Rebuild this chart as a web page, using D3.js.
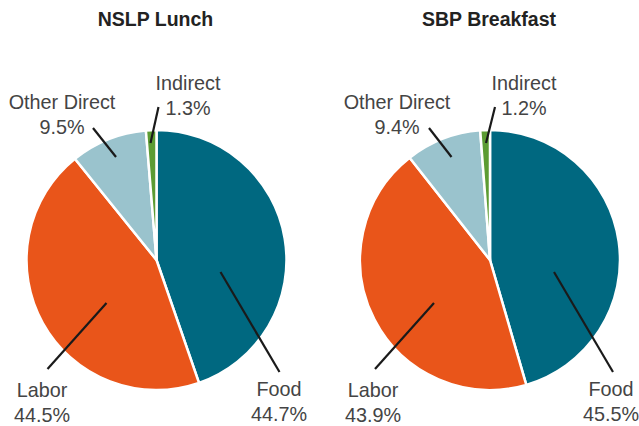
<!DOCTYPE html>
<html><head><meta charset="utf-8">
<script src="https://cdn.jsdelivr.net/npm/d3@7"></script>
<style>body{margin:0;background:#fff}svg{display:block}</style>
</head><body>
<svg id="c" width="639" height="426"></svg>
<script>
const categories = ["Food", "Labor", "Other Direct", "Indirect"];
const lunchValues = [44.7, 44.5, 9.5, 1.3];
const breakfastValues = [45.5, 43.9, 9.4, 1.2];
const titles = ["NSLP Lunch", "SBP Breakfast"];
const colors = ["#006880", "#E9551A", "#9AC3CD", "#5C9C33"];

// label layout (offsets from pie center): [lineInner, lineOuter, textCenter/baseline]
const lunchLayout = [
  {a:[64,12], b:[123,112], t:[122.5,136]},
  {a:[-50,43], b:[-109,109], t:[-114.5,137]},
  {a:[-40.5,-103], b:[-63.5,-132], t:[-94.5,-151]},
  {a:[-6,-117], b:[2,-153], t:[31.5,-170]}
];
const breakfastLayout = [
  {a:[64,12], b:[123,112], t:[121,136]},
  {a:[-56,43], b:[-115,109], t:[-117,137]},
  {a:[-38.5,-103], b:[-61,-132], t:[-93,-151]},
  {a:[-4,-117], b:[5,-153], t:[34,-170]}
];

const svg = d3.select("#c");
const pies = [
  {title: titles[0], values: lunchValues, cx: 156.5, cy: 260, layout: lunchLayout},
  {title: titles[1], values: breakfastValues, cx: 490, cy: 260, layout: breakfastLayout}
];
const R = 130;
const pie = d3.pie().sort(null).value(d => d.v);
const arc = d3.arc().innerRadius(0).outerRadius(R);
const color = d3.scaleOrdinal().domain(categories).range(colors);
const font = "'Liberation Sans', Arial, Helvetica, sans-serif";

pies.forEach(p => {
  const data = categories.map((c, i) => ({c, v: p.values[i]}));
  svg.append("text")
    .attr("x", p.cx - 1).attr("y", 26)
    .attr("text-anchor", "middle")
    .attr("font-family", font).attr("font-weight", "bold")
    .attr("font-size", 19.5).attr("fill", "#222")
    .text(p.title);
  const g = svg.append("g").attr("transform", `translate(${p.cx},${p.cy})`);
  g.selectAll("path").data(pie(data)).join("path")
    .attr("d", arc)
    .attr("fill", d => color(d.data.c))
    .attr("stroke", "#fff").attr("stroke-width", 2.5).attr("stroke-linejoin", "round");
  data.forEach((d, i) => {
    const L = p.layout[i];
    g.append("line")
      .attr("x1", L.a[0]).attr("y1", L.a[1])
      .attr("x2", L.b[0]).attr("y2", L.b[1])
      .attr("stroke", "#1a1a1a").attr("stroke-width", 2.2);
    const t = g.append("text")
      .attr("text-anchor", "middle")
      .attr("font-family", font).attr("font-size", 19.8)
      .attr("fill", "#444");
    t.append("tspan").attr("x", L.t[0]).attr("y", L.t[1]).text(d.c);
    t.append("tspan").attr("x", L.t[0]).attr("y", L.t[1] + 24.5).text(d3.format(".1f")(d.v) + "%");
  });
});
</script>
</body></html>
